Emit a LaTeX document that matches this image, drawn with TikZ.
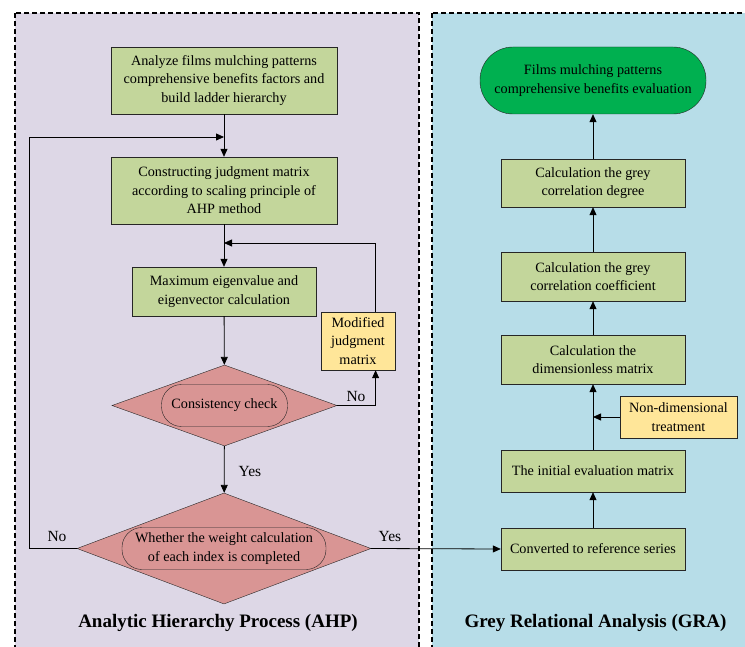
\documentclass[tikz,border=0pt]{standalone}
\usepackage{fontspec}
\setmainfont{Liberation Serif}
\usetikzlibrary{arrows.meta,shapes.geometric,positioning}

\definecolor{panelpurple}{RGB}{221,215,230}
\definecolor{panelblue}{RGB}{183,221,232}
\definecolor{boxgreen}{RGB}{195,214,155}
\definecolor{noteyellow}{RGB}{255,230,153}
\definecolor{decred}{RGB}{217,149,148}
\definecolor{goalgreen}{RGB}{0,176,80}

\begin{document}
\begin{tikzpicture}[x=1pt, y=-1pt,
    every node/.style={font=\fontsize{14.2}{18.5}\selectfont},
    box/.style={draw=black!85, fill=boxgreen, align=center, inner sep=1pt, minimum width=184, minimum height=49},
    note/.style={draw=black!85, fill=noteyellow, align=center, inner sep=1pt},
    decision/.style={diamond, draw=black!85, fill=decred, inner sep=0pt},
    oval/.style={draw=black!85, rounded corners=20pt, align=center, inner sep=1pt, minimum height=42},
    arr/.style={-{Triangle[length=8pt,width=7pt]}, line width=0.8pt},
    panel/.style={draw=black, line width=1.1pt, dash pattern=on 5pt off 3pt},
    lab/.style={font=\fontsize{15.5}{18}\selectfont},
    title/.style={font=\fontsize{19}{22}\selectfont\bfseries},
  ]

    \useasboundingbox (0,0) rectangle (745,647);
    \clip (0,0) rectangle (745,647);

    %draw the two panels
    \filldraw[panel, fill=panelpurple] (15,13) rectangle (419,660);
    \filldraw[panel, fill=panelblue] (432,13) rectangle (760,660);

    \coordinate (loopT) at (224,137);
    \coordinate (fbT) at (224,243);
    \coordinate (ndT) at (593,417);

    %AHP side
    \node[box, minimum width=226, minimum height=67] (analyze) at (224,80.5)
        {Analyze films mulching patterns\\comprehensive benefits factors and\\build ladder hierarchy};
    \node[box, minimum width=226, minimum height=67] (judge) at (224,190.5)
        {Constructing judgment matrix\\according to scaling principle of\\AHP method};
    \node[box] (eigen) at (224,291.5)
        {Maximum eigenvalue and\\eigenvector calculation};
    \node[note, minimum width=74, minimum height=58] (modify) at (358,341)
        {Modified\\judgment\\matrix};
    \node[decision, minimum width=225, minimum height=81] (check) at (224.5,405.5) {};
    \node[oval, minimum width=126] (checktxt) at (check) {Consistency check};
    \node[decision, minimum width=294, minimum height=111] (weight) at (224,548.5) {};
    \node[oval, minimum width=204] (weighttxt) at (weight)
        {Whether the weight calculation\\of each index is completed};

    %GRA side
    \node[draw=black!85, fill=goalgreen, rounded corners=33pt, align=center,
          minimum width=226, minimum height=67] (goal) at (593,80.5)
        {Films mulching patterns\\comprehensive benefits evaluation};
    \node[box, minimum height=48] (degree) at (593,183)
        {Calculation the grey\\correlation degree};
    \node[box] (coeff) at (593,276.5)
        {Calculation the grey\\correlation coefficient};
    \node[box] (dimless) at (593,359.5)
        {Calculation the\\dimensionless matrix};
    \node[note, minimum width=117, minimum height=42] (nondim) at (678.5,417)
        {Non-dimensional\\treatment};
    \node[box, minimum height=42] (initial) at (593,471)
        {The initial evaluation matrix};
    \node[box, minimum height=42] (convert) at (593,549)
        {Converted to reference series};

    %draw the AHP arrows
    \draw[arr] (analyze) -- (judge);
    \draw[arr] (judge) -- (eigen);
    \draw[arr] (eigen) -- (check);
    \draw[arr] (check.east) -| ([xshift=17.6]modify.south);
    \draw[arr] ([xshift=17.6]modify.north) |- (fbT);
    \draw[arr] (check) -- (weight);
    \draw[arr] (weight.west) -- ++(-47,0) |- (loopT);
    \draw[arr] (weight.east) -- (convert.west);

    %draw the GRA arrows
    \draw[arr] (convert) -- (initial);
    \draw[arr] (initial) -- (dimless);
    \draw[arr] (nondim.west) -- (ndT);
    \draw[arr] (dimless) -- (coeff);
    \draw[arr] (coeff) -- (degree);
    \draw[arr] (degree) -- (goal);

    %labels
    \node[lab] (no1) at (356,397) {No};
    \node[lab] (yes1) at (250,471) {Yes};
    \node[lab] (no2) at (57,536) {No};
    \node[lab] (yes2) at (390,536) {Yes};

    %panel titles
    \node[title] (ahp) at (218,623) {Analytic Hierarchy Process (AHP)};
    \node[title] (gra) at (595.5,623) {Grey Relational Analysis (GRA)};

\end{tikzpicture}
\end{document}
